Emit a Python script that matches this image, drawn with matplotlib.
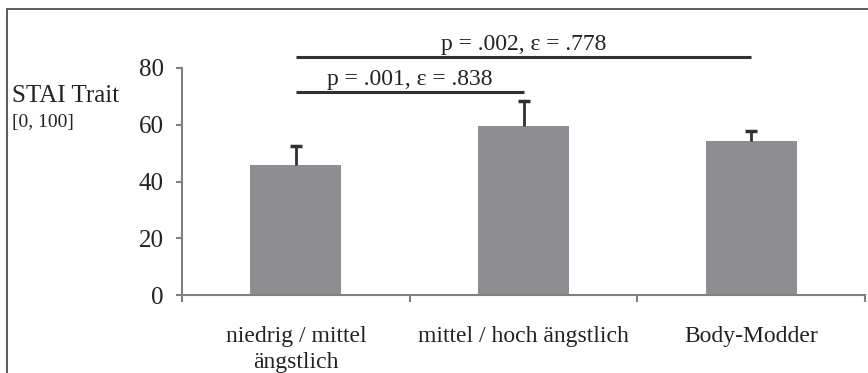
import matplotlib
matplotlib.use("Agg")
import matplotlib.pyplot as plt
from matplotlib.patches import Rectangle

# data
categories = ["niedrig / mittel\nängstlich", "mittel / hoch ängstlich", "Body-Modder"]
means = [45.8, 59.7, 54.4]
err_up = [6.7, 8.8, 3.5]
y_ticks = [0, 20, 40, 60, 80]
# significance brackets: (left bar, right bar, height, label)
sig_pairs = [(0, 1, 71.6, "p = .001, ε = .838"),
             (0, 2, 83.9, "p = .002, ε = .778")]

BAR_COLOR = "#8e8e92"
AXIS_COLOR = "#808080"
DARK = "#303030"

plt.rcParams["font.family"] = ["Liberation Serif", "DejaVu Serif"]

fig = plt.figure(figsize=(8.68, 3.73), dpi=100)
ax = fig.add_axes([182 / 868, 78 / 373, 683 / 868, 283.75 / 373])

x = list(range(len(categories)))
ax.bar(x, means, width=0.4, color=BAR_COLOR, zorder=2)
_, caps, _ = ax.errorbar(x, means, yerr=[[0] * len(means), err_up], fmt="none",
                         ecolor=DARK, elinewidth=2, capsize=4, capthick=2.5,
                         zorder=3)
caps[0].set_visible(False)  # only the upper cap

for i, j, h, lab in sig_pairs:
    ax.plot([x[i], x[j]], [h, h], color=DARK, lw=2.2, solid_capstyle="butt",
            clip_on=False)
    ax.text((x[i] + x[j]) / 2, h + 2.3, lab, ha="center", va="baseline",
            fontsize=17, color="#222222")

ax.set_xlim(-0.5, 2.5)
ax.set_ylim(0, 100)

for s in ["top", "right"]:
    ax.spines[s].set_visible(False)
ax.spines["left"].set_bounds(0, 80)
for s in ["left", "bottom"]:
    ax.spines[s].set_color(AXIS_COLOR)
    ax.spines[s].set_linewidth(1.5)

ax.set_yticks(y_ticks)
ax.tick_params(axis="y", colors=AXIS_COLOR, length=4, width=1.5, pad=9,
               labelcolor="#222222", labelsize=18)

# group separators as major ticks, category names as minor ticks
ax.set_xticks([-0.5, 0.5, 1.5, 2.5])
ax.set_xticklabels([])
ax.tick_params(axis="x", which="major", colors=AXIS_COLOR, length=5, width=1.5)
ax.set_xticks(x, minor=True)
ax.set_xticklabels(categories, minor=True, fontsize=17, color="#222222",
                   linespacing=1.35)
ax.tick_params(axis="x", which="minor", length=0, pad=22)

fig.text(12 / 868, 1 - 96 / 373, "STAI Trait", fontsize=18, va="center",
         ha="left", color="#222222")
fig.text(12 / 868, 1 - 122 / 373, "[0, 100]", fontsize=14, va="center",
         ha="left", color="#222222")

# outer frame of the figure panel
fig.patches.append(Rectangle((7 / 868, -0.1), 1.2, 1.1 - 9.5 / 373,
                             transform=fig.transFigure, fill=False,
                             edgecolor="#404040", lw=1.2, clip_on=False))

fig.savefig("out.png", dpi=100)
